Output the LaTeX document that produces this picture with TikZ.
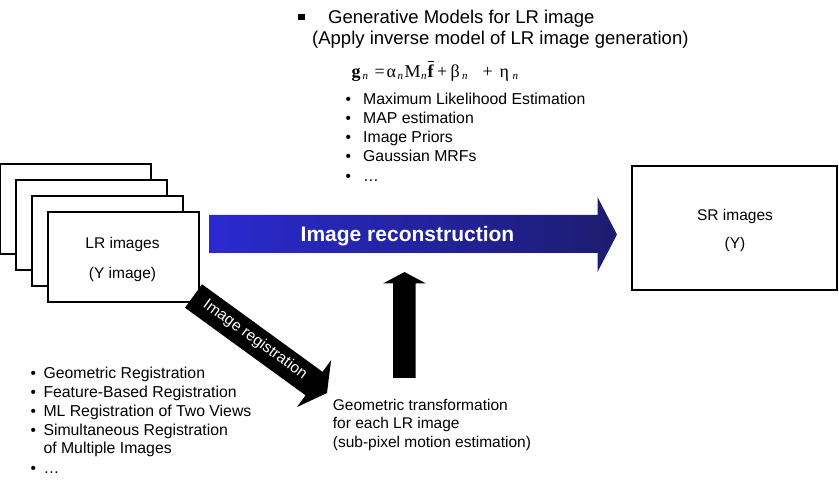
\documentclass[tikz,border=0pt]{standalone}
\usepackage{fontspec}
\setmainfont{Liberation Sans}
\newfontfamily\eqfont{Liberation Serif}
\definecolor{blueL}{RGB}{42,42,208}
\definecolor{blueR}{RGB}{28,28,112}
\begin{document}
\begin{tikzpicture}[x=1pt,y=-1pt,
  frame/.style={draw=black, line width=1.2pt, fill=white},
  txt/.style={font=\fontsize{15.5}{18}\selectfont, inner sep=0pt, anchor=base west},
  ltxt/.style={font=\fontsize{15.8}{18}\selectfont, inner sep=0pt, anchor=base west},
  ctxt/.style={font=\fontsize{15.5}{18}\selectfont, inner sep=0pt, anchor=base},
  bul/.style={font=\fontsize{15.5}{18}\selectfont, inner sep=0pt, anchor=base},
  headtxt/.style={font=\fontsize{18.5}{22}\selectfont, inner sep=0pt, anchor=base west},
  eqt/.style={font=\eqfont\fontsize{18}{20}\selectfont, inner sep=0pt, anchor=base west},
  eqb/.style={font=\eqfont\bfseries\fontsize{18}{20}\selectfont, inner sep=0pt, anchor=base west},
  eqs/.style={font=\eqfont\itshape\fontsize{11}{12}\selectfont, inner sep=0pt, anchor=base west}
]
\useasboundingbox (0,0) rectangle (839,486);

% ---- LR image stack ----
\draw[frame] (0.6,164) rectangle (151,254);
\draw[frame] (16,180) rectangle (167,270);
\draw[frame] (32,196) rectangle (183,286);
\draw[frame] (48,212) rectangle (199,302);
\node[ctxt] (lr1) at (122.5,249) {LR images};
\node[ctxt] (lr2) at (122.5,278.3) {(Y image)};

% ---- SR box ----
\draw[frame] (632,166) rectangle (837,290);
\node[ctxt] (sr1) at (735,221) {SR images};
\node[ctxt] (sr2) at (735,248.3) {(Y)};

% ---- Image reconstruction arrow ----
\shade[left color=blueL, right color=blueR]
  (209,215) -- (597.5,215) -- (597.5,197) -- (617,234.5) -- (597.5,272) -- (597.5,253) -- (209,253) -- cycle;
\node[font=\bfseries\fontsize{21}{24}\selectfont, text=white, inner sep=0pt, anchor=base] (recon) at (407.5,241.7) {Image reconstruction};

% ---- Up arrow ----
\fill[black] (393,378) -- (393,283.5) -- (383,283.5) -- (404.5,272) -- (426,283.5) -- (415.5,283.5) -- (415.5,378) -- cycle;

% ---- Image registration arrow ----
\begin{scope}[shift={(193.5,296)}, rotate=-36]
  \fill[black] (0,-14.5) -- (149,-14.5) -- (149,-29) -- (165,0) -- (149,29) -- (149,14.5) -- (0,14.5) -- cycle;
\end{scope}
\node[font=\fontsize{15.5}{18}\selectfont, text=white, inner sep=0pt, rotate=-36] (regtxt) at (255,340) {Image registration};

% ---- Top heading ----
\fill[black] (298,14) rectangle (304.5,20.5);
\node[headtxt] (h1) at (328,24) {Generative Models for LR image};
\node[headtxt] (h2) at (312,45) {(Apply inverse model of LR image generation)};

% ---- Equation ----
\node[eqb] (e1) at (351.5,77.5) {g};
\node[eqs] (e2) at (362.5,79.5) {n};
\node[eqt] (e3) at (374.5,77.5) {=};
\node[eqt] (e4) at (386.5,77.5) {α};
\node[eqs] (e5) at (397.5,79.5) {n};
\node[eqt] (e6) at (404.5,77.5) {M};
\node[eqs] (e7) at (421,79.5) {n};
\node[eqb] (e8) at (427.5,77.5) {f};
\draw[line width=0.9pt] (428,61.8) -- (434,61.8);
\node[eqt] (e9) at (437,77.5) {+};
\node[eqt] (e10) at (450.5,77.5) {β};
\node[eqs] (e11) at (462,79.5) {n};
\node[eqt] (e12) at (482.5,77.5) {+};
\node[eqt] (e13) at (499.5,77.5) {η};
\node[eqs] (e14) at (512.5,79.5) {n};

% ---- Top list ----
\node[bul] (tb1) at (348.3,105) {•};
\node[ltxt] (t1) at (363,105) {Maximum  Likelihood Estimation};
\node[bul] (tb2) at (348.3,124) {•};
\node[ltxt] (t2) at (363,124) {MAP estimation};
\node[bul] (tb3) at (348.3,142.7) {•};
\node[ltxt] (t3) at (363,142.7) {Image  Priors};
\node[bul] (tb4) at (348.3,161.7) {•};
\node[ltxt] (t4) at (363,161.7) {Gaussian MRFs};
\node[bul] (tb5) at (348.3,181.7) {•};
\node[ltxt] (t5) at (363,181.7) {…};

% ---- Bottom-left list ----
\node[bul] (bb1) at (33.3,378.3) {•};
\node[ltxt] (b1) at (43.3,378.3) {Geometric Registration};
\node[bul] (bb2) at (33.3,397.3) {•};
\node[ltxt] (b2) at (43.3,397.3) {Feature-Based Registration};
\node[bul] (bb3) at (33.3,416.7) {•};
\node[ltxt] (b3) at (43.3,416.7) {ML Registration  of Two  Views};
\node[bul] (bb4) at (33.3,435.3) {•};
\node[ltxt] (b4) at (43.3,435.3) {Simultaneous  Registration};
\node[ltxt] (b5) at (43.3,454) {of Multiple Images};
\node[bul] (bb6) at (33.3,474) {•};
\node[ltxt] (b6) at (43.3,474) {…};

% ---- Geometric transformation text ----
\node[txt] (g1) at (332.7,410.7) {Geometric transformation};
\node[txt] (g2) at (332.7,429) {for each LR image};
\node[txt] (g3) at (332.7,447.3) {(sub-pixel motion estimation)};
\end{tikzpicture}
\end{document}
